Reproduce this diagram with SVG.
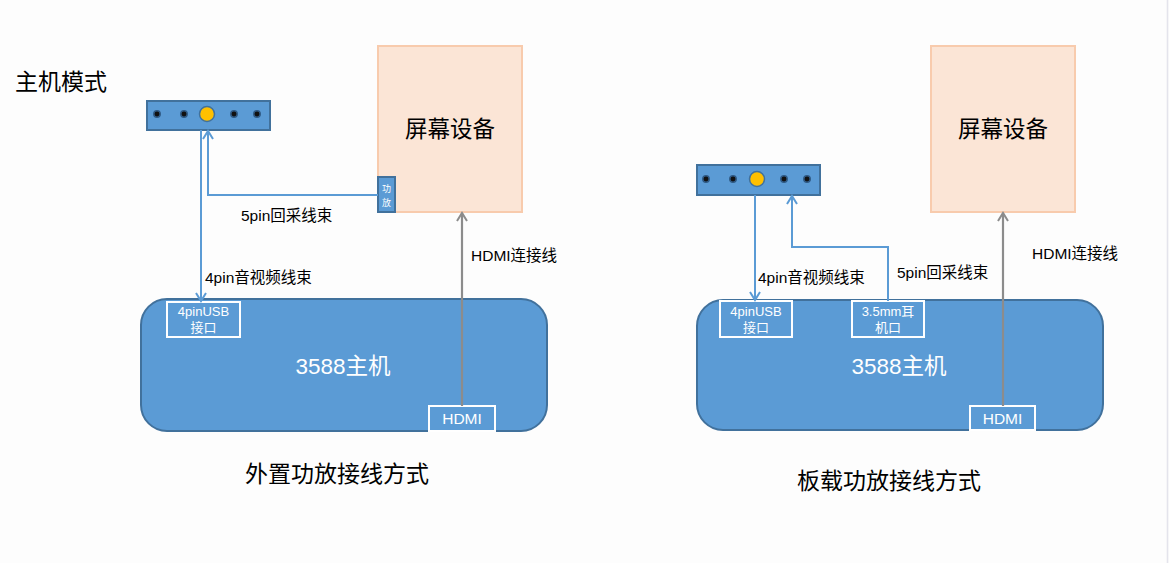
<svg xmlns="http://www.w3.org/2000/svg" width="1169" height="563" viewBox="0 0 1169 563">
<style>
text{font-family:"Liberation Sans","Noto Sans CJK SC",sans-serif;}
.blk{fill:#000;}
.wt{fill:#fff;}
.dev{fill:#5b9bd5;stroke:#41719c;stroke-width:2;}
.screen{fill:#fbe5d6;stroke:#f8cbad;stroke-width:2;}
.port{fill:none;stroke:#fff;stroke-width:2;}
.dot{fill:#111;stroke:#2f5a85;stroke-width:1.5;}
.ydot{fill:#ffc000;stroke:#41719c;stroke-width:1.5;}
.bl{fill:none;stroke:#5b9bd5;stroke-width:2;}
.gr{fill:none;stroke:#8c8c8c;stroke-width:2.2;}
.lbl{font-size:15.5px;}
.ttl{font-size:23px;}
.pt{font-size:13px;}
</style>
<defs>
<marker id="ab" viewBox="0 0 12 12" refX="10" refY="6" markerWidth="12" markerHeight="12" markerUnits="userSpaceOnUse" orient="auto">
<path d="M2,1 L10,6 L2,11" fill="none" stroke="#5b9bd5" stroke-width="2"/>
</marker>
<marker id="ag" viewBox="0 0 12 12" refX="10" refY="6" markerWidth="12" markerHeight="12" markerUnits="userSpaceOnUse" orient="auto">
<path d="M2,1 L10,6 L2,11" fill="none" stroke="#8c8c8c" stroke-width="2"/>
</marker>
</defs>
<rect width="1169" height="563" fill="#fdfdfd"/>
<line x1="1167.5" y1="0" x2="1167.5" y2="563" stroke="#e4e4ec" stroke-width="1.5"/>

<text x="15" y="90" class="blk ttl">主机模式</text>

<!-- Left panel -->
<g id="screen-left">
<rect class="screen" x="378" y="46" width="144" height="166"/>
<text x="450" y="137" font-size="22.5" text-anchor="middle" class="blk">屏幕设备</text>
</g>
<g id="amp-left">
<rect class="dev" x="378" y="177" width="17" height="35"/>
<text x="386.5" y="192" font-size="9" text-anchor="middle" class="wt">功</text>
<text x="386.5" y="206" font-size="9" text-anchor="middle" class="wt">放</text>
</g>
<g id="connector-left">
<rect class="dev" x="147" y="101" width="123" height="29"/>
<circle class="dot" cx="157" cy="114" r="3.2"/>
<circle class="dot" cx="184" cy="114" r="3.2"/>
<circle class="ydot" cx="207" cy="114" r="7.5"/>
<circle class="dot" cx="234" cy="114" r="3.2"/>
<circle class="dot" cx="257" cy="114" r="3.2"/>
</g>
<g id="host-left">
<rect class="dev" x="141" y="299" width="406" height="132" rx="26" ry="26"/>
<text x="343" y="374" font-size="22.5" text-anchor="middle" class="wt">3588主机</text>
</g>
<g id="usb-left">
<rect class="port" x="167" y="302" width="73" height="35"/>
<text x="203.5" y="316" text-anchor="middle" class="wt pt">4pinUSB</text>
<text x="203.5" y="332" text-anchor="middle" class="wt pt">接口</text>
</g>
<g id="hdmi-left">
<rect class="port" x="429" y="406" width="66" height="25"/>
<text x="462" y="424" font-size="15.5" text-anchor="middle" class="wt">HDMI</text>
</g>
<text x="245" y="482" class="blk ttl">外置功放接线方式</text>

<!-- Right panel -->
<g id="screen-right">
<rect class="screen" x="931" y="46" width="144" height="166"/>
<text x="1003" y="137" font-size="22.5" text-anchor="middle" class="blk">屏幕设备</text>
</g>
<g id="connector-right">
<rect class="dev" x="697" y="165" width="123" height="30"/>
<circle class="dot" cx="706" cy="179" r="3.2"/>
<circle class="dot" cx="733" cy="179" r="3.2"/>
<circle class="ydot" cx="757" cy="179" r="7.5"/>
<circle class="dot" cx="784" cy="179" r="3.2"/>
<circle class="dot" cx="807" cy="179" r="3.2"/>
</g>
<g id="host-right">
<rect class="dev" x="697" y="300" width="406" height="130" rx="26" ry="26"/>
<text x="899" y="374" font-size="22.5" text-anchor="middle" class="wt">3588主机</text>
</g>
<g id="usb-right">
<rect class="port" x="720" y="301" width="72" height="36"/>
<text x="756" y="316" text-anchor="middle" class="wt pt">4pinUSB</text>
<text x="756" y="332" text-anchor="middle" class="wt pt">接口</text>
</g>
<g id="jack-right">
<rect class="port" x="852" y="301" width="72" height="36"/>
<text x="888" y="316" text-anchor="middle" class="wt pt">3.5mm耳</text>
<text x="888" y="332" text-anchor="middle" class="wt pt">机口</text>
</g>
<g id="hdmi-right">
<rect class="port" x="970" y="406" width="65" height="24"/>
<text x="1002.5" y="424" font-size="15.5" text-anchor="middle" class="wt">HDMI</text>
</g>
<text x="797" y="489" class="blk ttl">板载功放接线方式</text>

<!-- Connectors -->
<g id="connectors">
<path class="bl" d="M378,195 H208 V131" marker-end="url(#ab)"/>
<path class="bl" d="M201,130 V301" marker-end="url(#ab)"/>
<path class="gr" d="M462,406 V213" marker-end="url(#ag)"/>
<path class="bl" d="M755,195 V300" marker-end="url(#ab)"/>
<path class="bl" d="M888,301 V247 H792 V196" marker-end="url(#ab)"/>
<path class="gr" d="M1003,406 V213" marker-end="url(#ag)"/>
<text x="241" y="221" class="blk lbl">5pin回采线束</text>
<text x="205" y="283" class="blk lbl">4pin音视频线束</text>
<text x="471" y="261" class="blk lbl">HDMI连接线</text>
<text x="758" y="283" class="blk lbl">4pin音视频线束</text>
<text x="897" y="278" class="blk lbl">5pin回采线束</text>
<text x="1032" y="259" class="blk lbl">HDMI连接线</text>
</g>
</svg>
